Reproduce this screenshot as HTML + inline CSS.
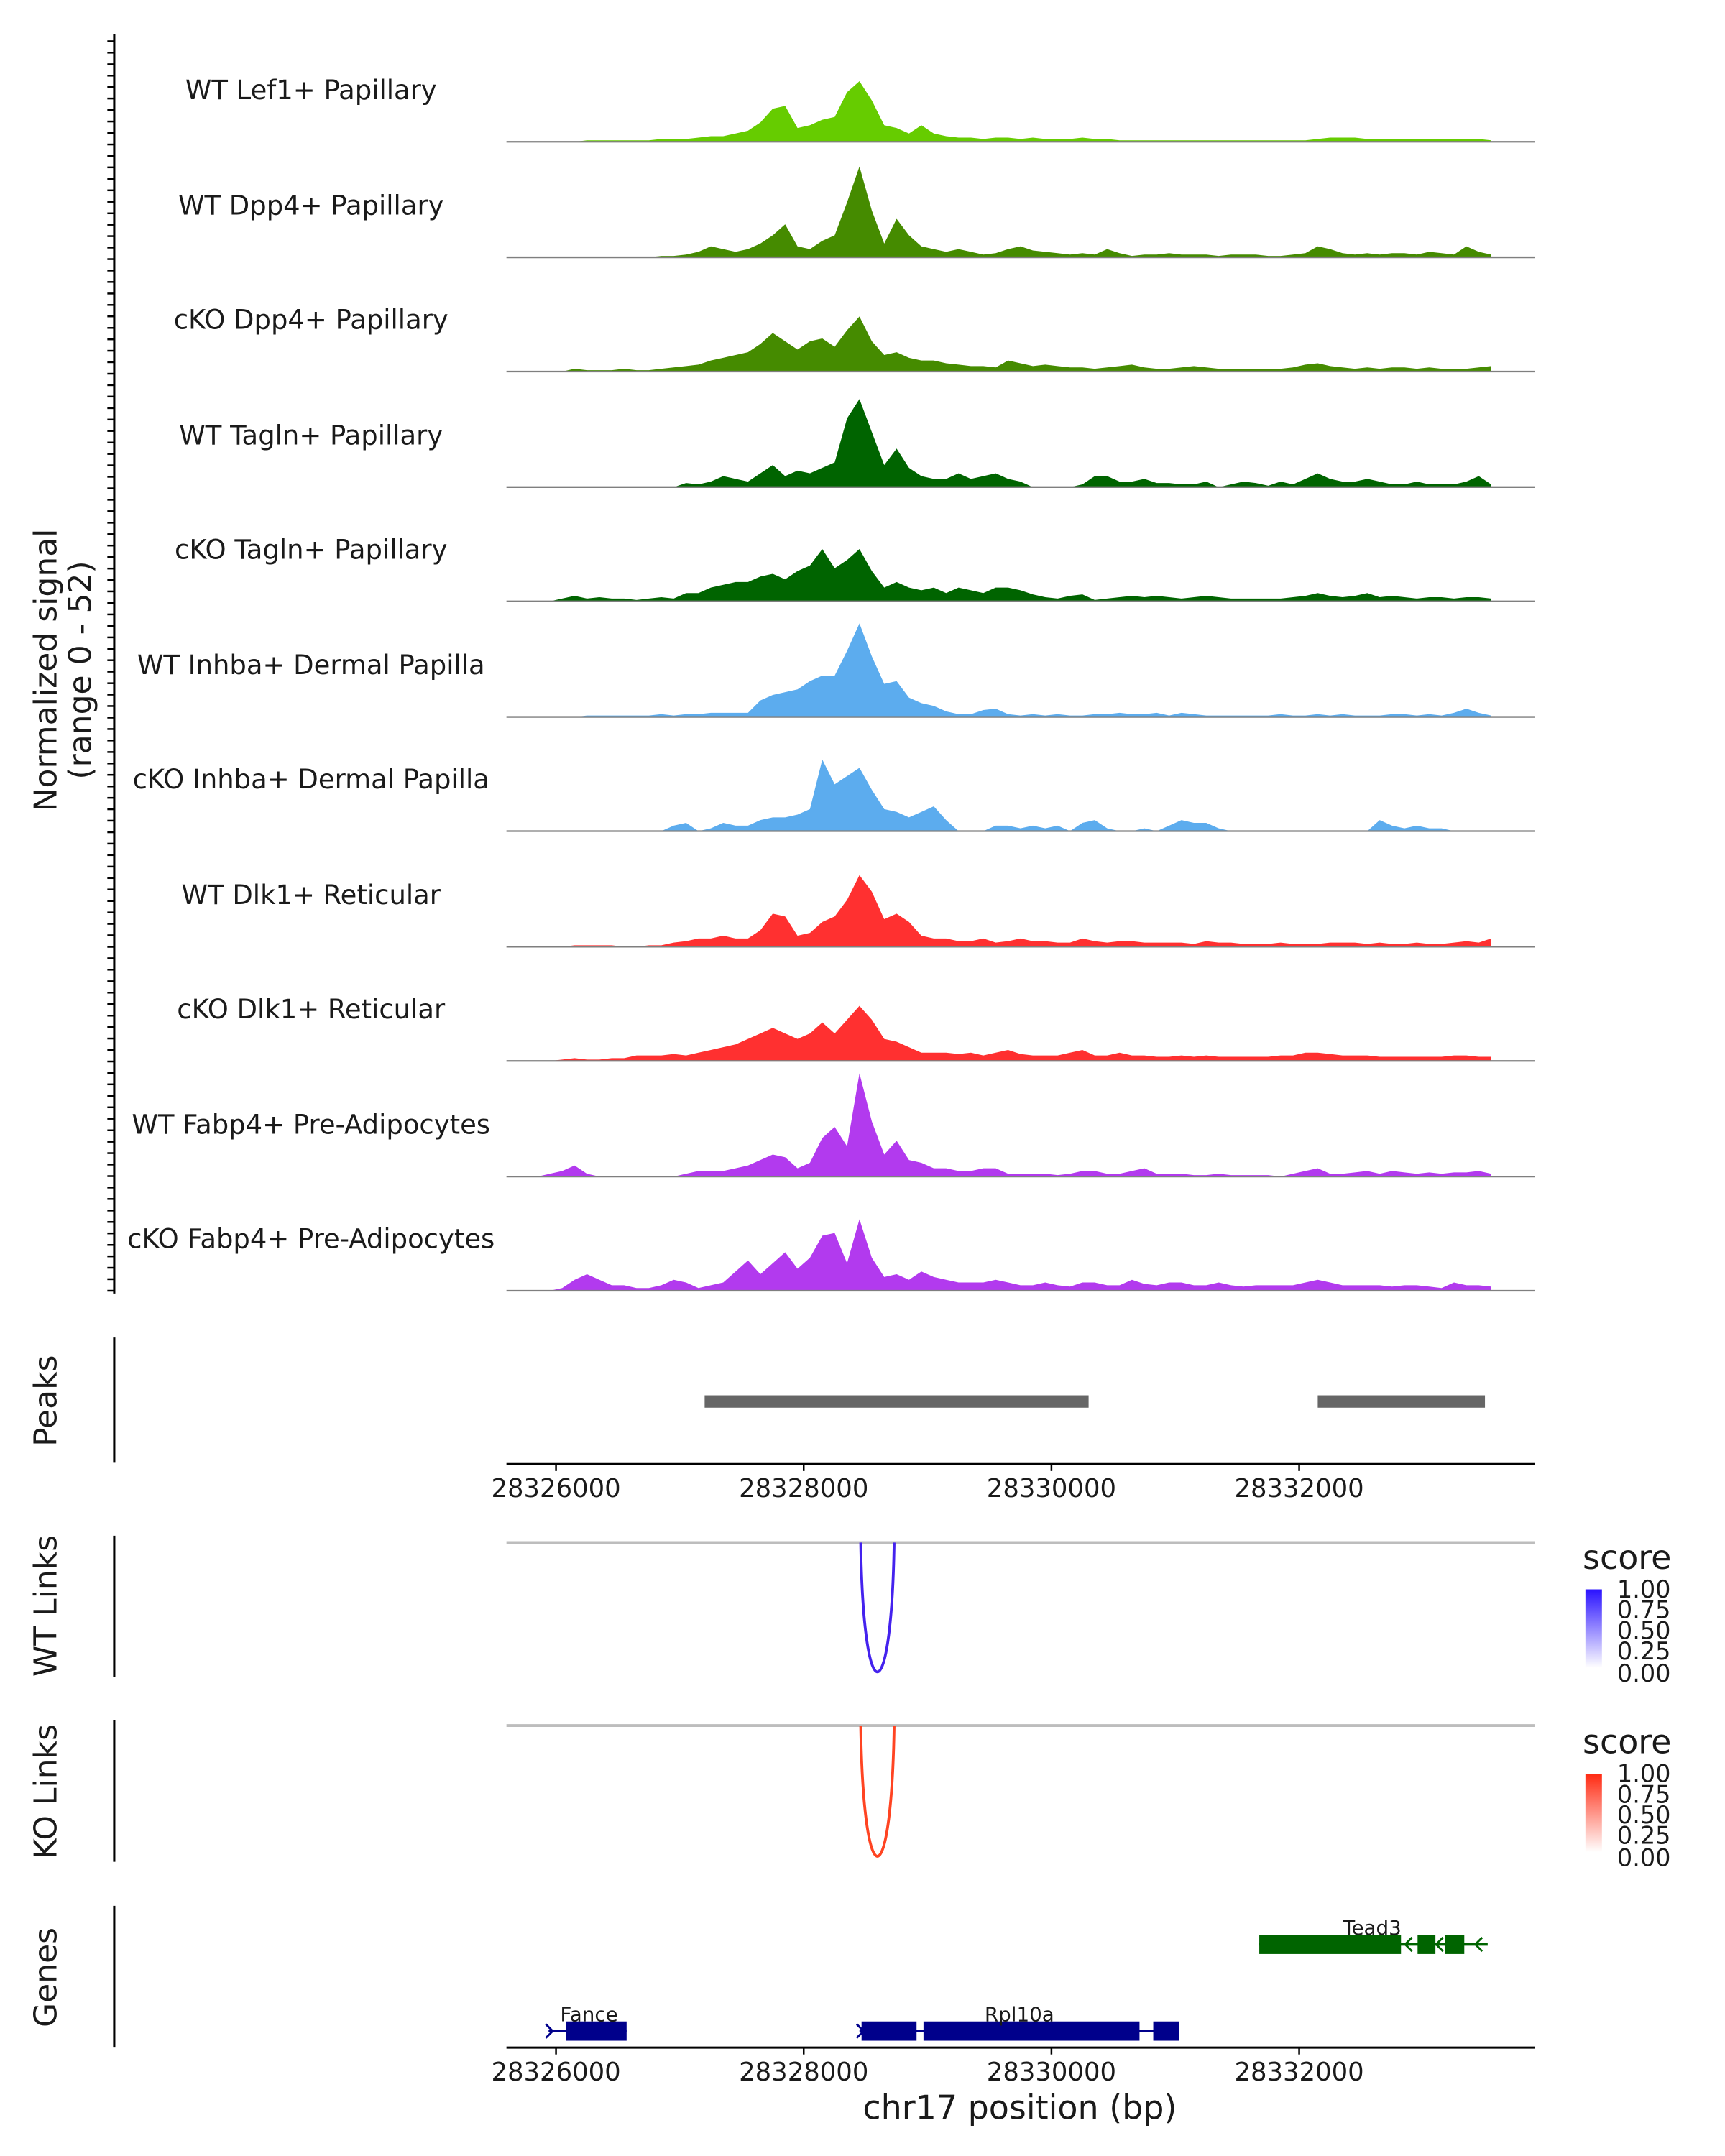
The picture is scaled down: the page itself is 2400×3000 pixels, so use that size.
<!DOCTYPE html>
<html><head><meta charset="utf-8"><style>
html,body{margin:0;padding:0;background:#fff}
svg{display:block}
text{font-family:"DejaVu Sans","Liberation Sans",sans-serif;fill:#1a1a1a}
</style></head><body>
<svg id="fig" width="2400" height="3000" viewBox="0 0 1253.4 1566.8" preserveAspectRatio="none" xmlns="http://www.w3.org/2000/svg">
<g id="tracks"></g>
<line x1="83" y1="25" x2="83" y2="940" stroke="#000" stroke-width="1.6"/>
<g id="yticks"></g>
<text transform="translate(41,487) rotate(-90)" text-anchor="middle" font-size="23">Normalized signal</text>
<text transform="translate(66,487) rotate(-90)" text-anchor="middle" font-size="23">(range 0 - 52)</text>

<line x1="83" y1="972" x2="83" y2="1063" stroke="#000" stroke-width="1.6"/>
<text transform="translate(41,1018) rotate(-90)" text-anchor="middle" font-size="23">Peaks</text>
<g id="peaks"></g>
<g id="xaxis1"></g>

<line x1="83" y1="1116" x2="83" y2="1219" stroke="#000" stroke-width="1.6"/>
<text transform="translate(41,1167) rotate(-90)" text-anchor="middle" font-size="23">WT Links</text>
<line x1="368" y1="1121" x2="1115" y2="1121" stroke="#bdbdbd" stroke-width="2"/>
<g id="wtlinks"></g>
<defs>
<linearGradient id="gb" x1="0" y1="1" x2="0" y2="0"><stop offset="0" stop-color="#ffffff"/><stop offset="1" stop-color="#2a12ff"/></linearGradient>
<linearGradient id="gr" x1="0" y1="1" x2="0" y2="0"><stop offset="0" stop-color="#ffffff"/><stop offset="1" stop-color="#ff2a12"/></linearGradient>
</defs>
<g>
<text x="1150" y="1140" font-size="24">score</text>
<rect x="1152" y="1155" width="12" height="57" fill="url(#gb)"/>
<text x="1175" y="1161" font-size="17.5">1.00</text><text x="1175" y="1176" font-size="17.5">0.75</text><text x="1175" y="1191" font-size="17.5">0.50</text><text x="1175" y="1206" font-size="17.5">0.25</text><text x="1175" y="1222" font-size="17.5">0.00</text>
</g>

<line x1="83" y1="1250" x2="83" y2="1353" stroke="#000" stroke-width="1.6"/>
<text transform="translate(41,1302) rotate(-90)" text-anchor="middle" font-size="23">KO Links</text>
<line x1="368" y1="1254" x2="1115" y2="1254" stroke="#bdbdbd" stroke-width="2"/>
<g id="kolinks"></g>
<g>
<text x="1150" y="1274" font-size="24">score</text>
<rect x="1152" y="1289" width="12" height="57" fill="url(#gr)"/>
<text x="1175" y="1295" font-size="17.5">1.00</text><text x="1175" y="1310" font-size="17.5">0.75</text><text x="1175" y="1325" font-size="17.5">0.50</text><text x="1175" y="1340" font-size="17.5">0.25</text><text x="1175" y="1356" font-size="17.5">0.00</text>
</g>

<line x1="83" y1="1385" x2="83" y2="1488" stroke="#000" stroke-width="1.6"/>
<text transform="translate(41,1437) rotate(-90)" text-anchor="middle" font-size="23">Genes</text>
<g id="genes"></g>
<g id="xaxis2"></g>
<text x="741" y="1540" text-anchor="middle" font-size="24">chr17 position (bp)</text>
</svg>
<script>
const NS="http://www.w3.org/2000/svg";
const trackNames=["WT Lef1+ Papillary","WT Dpp4+ Papillary","cKO Dpp4+ Papillary","WT Tagln+ Papillary","cKO Tagln+ Papillary","WT Inhba+ Dermal Papilla","cKO Inhba+ Dermal Papilla","WT Dlk1+ Reticular","cKO Dlk1+ Reticular","WT Fabp4+ Pre-Adipocytes","cKO Fabp4+ Pre-Adipocytes"];
const trackColors=["#66cc00","#458b00","#458b00","#006400","#006400","#5cacee","#5cacee","#ff3030","#ff3030","#b23aee","#b23aee"];
const binStart=28325850, binSize=100;
const sig0=[0,0,0,0,1,1,1,1,1,1,2,2,2,3, 4,4,6,8,14,24,26,10,12,16,18,36,44,30,12,10,6,12,6,4, 3,3,2,3,3,2,3,2,2,2,3,2,2,1,1,1,1,1,1,1,1,1,1,1,1,1,1,1,1,2,3,3,3,2,2,2,2,2,2,2,2,2,2,1];
const sig1=[0,0,0,0,0,0,0,0,0,0,1,1,2,4, 8,6,4,6,10,16,24,8,6,12,16,40,66,34,10,28,16,8,6,4, 6,4,2,3,6,8,5,4,3,2,3,2,6,3,1,2,2,3,2,2,2,1,2,2,2,1,1,2,3,8,6,3,2,3,2,3,3,2,4,3,2,8,4,2];
const sig2=[0,0,0,2,1,1,1,2,1,1,2,3,4,5, 8,10,12,14,20,28,22,16,22,24,18,30,40,22,12,14,10,8,8,6, 5,4,4,3,8,6,4,5,4,3,3,2,3,4,5,3,2,2,3,4,3,2,2,2,2,2,2,3,5,6,4,3,2,3,2,3,3,2,3,2,2,2,3,4];
const sig3=[0,0,0,0,0,0,0,0,0,0,0,0,3,2, 4,8,6,4,10,16,8,12,10,14,18,50,64,40,16,28,14,8,6,6, 10,6,8,10,6,4,0,0,0,0,2,8,8,4,4,6,3,3,2,2,4,0,2,4,3,1,4,2,6,10,6,4,4,6,4,2,2,4,2,2,2,4,8,2];
const sig4=[0,0,2,4,2,3,2,2,1,2,3,2,6,6, 10,12,14,14,18,20,16,22,26,38,24,30,38,22,10,14,10,8,10,6, 10,8,6,10,10,8,5,3,2,4,5,1,2,3,4,3,4,3,2,3,4,3,2,2,2,2,2,3,4,6,4,3,4,6,3,4,3,2,3,3,2,3,3,2];
const sig5=[0,0,0,0,1,1,1,1,1,1,2,1,2,2, 3,3,3,3,12,16,18,20,26,30,30,48,68,44,24,26,14,10,8,4, 2,2,5,6,2,1,2,1,2,1,1,2,2,3,2,2,3,1,3,2,1,1,1,1,1,1,2,1,1,2,1,2,1,1,1,2,2,1,2,1,3,6,3,1];
const sig6=[0,0,0,0,0,0,0,0,0,0,0,4,6,0, 2,6,4,4,8,10,10,12,16,52,34,40,46,30,16,14,10,14,18,8, 0,0,0,4,4,2,4,2,4,0,6,8,2,0,0,2,0,4,8,6,6,2,0,0,0,0,0,0,0,0,0,0,0,0,8,4,2,4,2,2,0,0,0,0];
const sig7=[0,0,0,1,1,1,1,0,0,1,1,3,4,6, 6,8,6,6,12,24,22,8,10,18,22,34,52,40,20,24,18,8,6,6, 4,4,6,3,4,6,4,4,3,3,6,4,3,4,4,3,3,3,3,2,4,3,3,2,2,2,3,2,2,2,3,3,3,2,3,2,2,3,2,2,3,4,3,6];
const sig8=[0,0,1,2,1,1,2,2,4,4,4,5,4,6, 8,10,12,16,20,24,20,16,20,28,20,30,40,30,16,14,10,6,6,6, 5,6,4,6,8,5,4,4,4,6,8,4,4,6,4,4,3,3,4,3,4,3,3,3,3,3,4,4,6,6,5,4,4,4,3,3,3,3,3,3,4,4,3,3];
const sig9=[0,2,4,8,2,0,0,0,0,0,0,0,2,4, 4,4,6,8,12,16,14,6,10,28,36,22,75,40,16,26,12,10,6,6, 4,4,6,6,2,2,2,2,1,2,4,4,2,2,4,6,2,2,2,1,1,2,1,1,1,1,0,2,4,6,2,2,3,4,2,4,3,2,3,2,3,3,4,2];
const sig10=[0,0,2,8,12,8,4,4,2,2,4,8,6,2, 4,6,14,22,12,20,28,16,24,40,42,20,52,24,10,12,8,14,10,8, 6,6,6,8,6,4,4,6,4,3,6,6,4,4,8,5,4,6,6,4,4,6,4,3,4,4,4,4,6,8,6,4,4,4,4,3,4,4,3,2,6,4,4,3];
const signals=[sig0,sig1,sig2,sig3,sig4,sig5,sig6,sig7,sig8,sig9,sig10];
const trackBaselines=[103,187,270,354,437,521,604,688,771,855,938];
const xTicks=[28326000,28328000,28330000,28332000];
const peakStarts=[28327200,28332150];
const peakEnds=[28330300,28333500];
const wtLinkStart=28328460, wtLinkEnd=28328730, wtLinkScore=1.0;
const koLinkStart=28328460, koLinkEnd=28328730, koLinkScore=1.0;
const geneNames=["Fance","Rpl10a","Tead3"];
const geneStrands=[1,1,-1];
const geneStarts=[28325940,28328450,28331678];
const geneEnds=[28326570,28331033,28333522];
const geneExonStarts=[[28326080],[28328467,28328967,28330822],[28331678,28332956,28333178]];
const geneExonEnds=[[28326570],[28328911,28330711,28331033],[28332822,28333100,28333333]];

const X=bp=>404+(bp-28326000)*0.09;
const YS=v=>v*1.0;
function mk(tag,attrs,parent){const e=document.createElementNS(NS,tag);for(const k in attrs)e.setAttribute(k,attrs[k]);parent.appendChild(e);return e;}

const tg=document.getElementById('tracks');
signals.forEach((s,t)=>{
  const g=mk('g',{},tg);
  
  
  const b=trackBaselines[t];
  const lab=mk('text',{x:226,y:b-31,'text-anchor':'middle','font-size':'19.3'},g);
  
  
  lab.textContent=trackNames[t];
  let d='M'+X(binStart).toFixed(1)+' '+b;
  s.forEach((v,i)=>{d+=' L'+X(binStart+i*binSize).toFixed(1)+' '+(b-YS(v)).toFixed(1);});
  d+=' L'+X(binStart+(s.length-1)*binSize).toFixed(1)+' '+b+' Z';
  const p=mk('path',{d:d,fill:trackColors[t]},g);
  
  
  const bl=mk('line',{x1:368,x2:1115,y1:b,y2:b,stroke:'#7f7f7f','stroke-width':1.2},g);
  
  
});
const yt=document.getElementById('yticks');
for(let y=30;y<=940;y+=8.33){const l=mk('line',{x1:78,x2:83,y1:y.toFixed(1),y2:y.toFixed(1),stroke:'#000','stroke-width':1.3},yt);
  
  }

const pg=document.getElementById('peaks');
peakStarts.forEach((s,i)=>{const r=mk('rect',{x:X(s),y:1014,width:X(peakEnds[i])-X(s),height:9,fill:'#666666'},pg);
  
  });

function axis(id,y){
  const g=document.getElementById(id);
  mk('line',{x1:368,x2:1115,y1:y,y2:y,stroke:'#000','stroke-width':1.6},g);
  xTicks.forEach(t=>{
    const l=mk('line',{x1:X(t),x2:X(t),y1:y,y2:y+5,stroke:'#000','stroke-width':1.3},g);
    
    
    const tx=mk('text',{x:X(t),y:y+24,'text-anchor':'middle','font-size':'18.5',fill:'#4d4d4d'},g);
    
    
    tx.textContent=t;
  });
}
axis('xaxis1',1064);axis('xaxis2',1488);

function link(id,s,e,base,depth,col){
  const g=document.getElementById(id);const x1=X(s),x2=X(e),c=base+depth/0.75;
  const p=mk('path',{d:`M${x1} ${base} C${x1+2} ${c},${x2-2} ${c},${x2} ${base}`,fill:'none',stroke:col,'stroke-width':2},g);
  
  
}
link('wtlinks',wtLinkStart,wtLinkEnd,1121,94*wtLinkScore,'#4422ee');
link('kolinks',koLinkStart,koLinkEnd,1254,95*koLinkScore,'#ff4422');

const gg=document.getElementById('genes');
const geneY=[1476,1476,1413],geneCol=['#00008b','#00008b','#006400'];
geneNames.forEach((n,i)=>{
  const g=mk('g',{},gg);
  
  
  const y=geneY[i],c=geneCol[i],dir=geneStrands[i];
  mk('line',{x1:X(geneStarts[i]),x2:X(geneEnds[i]),y1:y,y2:y,stroke:c,'stroke-width':2},g);
  geneExonStarts[i].forEach((s,j)=>{mk('rect',{x:X(s),y:y-7,width:X(geneExonEnds[i][j])-X(s),height:14,fill:c},g);});
  const lx=dir>0?X(geneStarts[i])-2:X(geneEnds[i])-4;
  mk('path',{d:`M${lx} ${y-5} L${lx+dir*5} ${y} L${lx} ${y+5}`,fill:'none',stroke:c,'stroke-width':1.5},g);
  if(dir<0){const ex=geneExonEnds[i];for(let j=0;j<ex.length-1;j++){const mx=(X(ex[j])+X(geneExonStarts[i][j+1]))/2+2;
    mk('path',{d:`M${mx} ${y-5} L${mx-5} ${y} L${mx} ${y+5}`,fill:'none',stroke:c,'stroke-width':1.5},g);}}
  const lxp=i===2?997:(X(geneStarts[i])+X(geneEnds[i]))/2;
  const t=mk('text',{x:i===0?428:lxp,y:y-7,'text-anchor':'middle','font-size':'14.5'},g);
  
  
  t.textContent=n;
});
</script>
</body></html>
